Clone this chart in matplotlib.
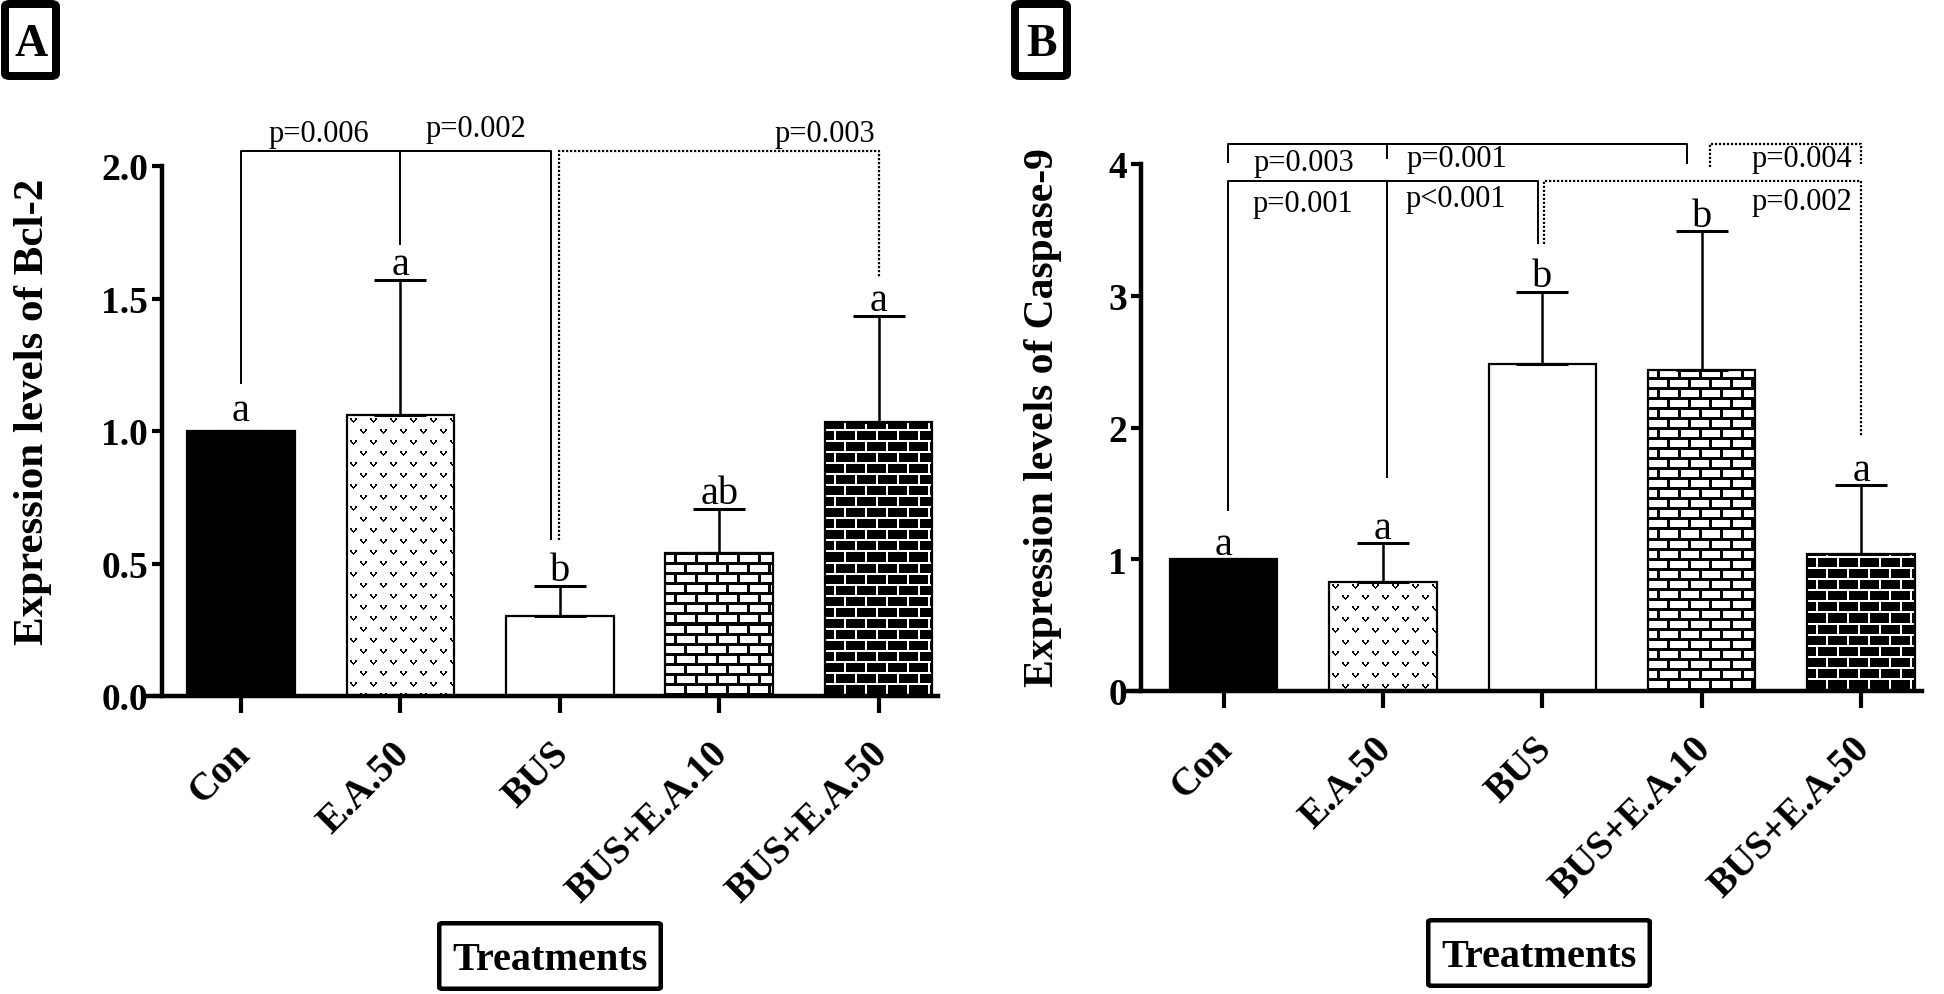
import numpy as np
import matplotlib
matplotlib.use("Agg")
import matplotlib.pyplot as plt
from matplotlib.patches import FancyBboxPatch

# ---------------- data ----------------
categories = ["Con", "E.A.50", "BUS", "BUS+E.A.10", "BUS+E.A.50"]

bcl2_mean = [1.00, 1.06, 0.303, 0.54, 1.035]
bcl2_sd = [0.00, 0.51, 0.113, 0.166, 0.40]
bcl2_letters = ["a", "a", "b", "ab", "a"]

casp9_mean = [1.00, 0.83, 2.48, 2.44, 1.04]
casp9_sd = [0.00, 0.29, 0.55, 1.05, 0.52]
casp9_letters = ["a", "a", "b", "b", "a"]

# brackets: (x_left, x_right, y_bar, y_left_end, y_right_end, mid_x, mid_y_end, style)
bcl2_brackets = [
    (0.0, 1.945, 2.058, 1.177, 0.59, 1.0, 1.703, "solid"),
    (1.995, 4.0, 2.058, 0.59, 1.58, None, None, "dotted"),
]
bcl2_ptexts = [("p=0.006", 0.49, 2.094), ("p=0.002", 1.475, 2.113), ("p=0.003", 3.66, 2.094)]

casp9_brackets = [
    (0.03, 2.91, 4.15, 4.01, 4.0, 1.026, 4.04, "solid"),
    (3.05, 4.0, 4.15, 3.98, 4.0, None, None, "dotted"),
    (0.03, 1.97, 3.87, 1.37, 3.39, 1.026, 1.62, "solid"),
    (2.01, 4.0, 3.87, 3.39, 1.93, None, None, "dotted"),
]
casp9_ptexts = [("p=0.003", 0.505, 3.955), ("p=0.001", 1.465, 3.985), ("p=0.004", 3.63, 3.985),
                ("p=0.001", 0.50, 3.64), ("p<0.001", 1.46, 3.68), ("p=0.002", 3.63, 3.66)]

patterns = ["solid", "vdots", "white", "brick_light", "brick_dark"]

# ---------------- style ----------------
plt.rcParams["font.family"] = ["Liberation Serif", "DejaVu Serif"]
W, H = 1944, 995
fig = plt.figure(figsize=(W / 100, H / 100), dpi=100)


def fx(x):
    return x / W


def fy(y):
    return 1 - y / H


def brick_tex(h, w, py, pxp, mortar, dark_bricks):
    yy, xx = np.mgrid[0:h, 0:w]
    yb = (h - 1 - yy)
    row = yb // py
    ymod = yb % py
    off = (row % 2) * (pxp / 2.0)
    xmod = (xx + 2 + off) % pxp
    mortar_mask = (ymod < mortar) | (xmod < mortar)
    if dark_bricks:
        return np.where(mortar_mask, 1.0, 0.0)
    return np.where(mortar_mask, 0.0, 1.0)


V_SHAPE = ["XX...XX",
           "XX...XX",
           ".XX.XX.",
           "..XXX..",
           "...X..."]


def v_tex(h, w, pxp=20.0, py=11.0):
    img = np.ones((h, w))
    pts = [(r, c - 3) for r, line in enumerate(V_SHAPE) for c, ch in enumerate(line) if ch == "X"]
    nrows = int(h / py) + 2
    ncols = int(w / pxp) + 2
    for r in range(nrows):
        yc = int(r * py) + 3
        off = (r % 2) * pxp / 2.0
        for c in range(-1, ncols):
            xc = int(c * pxp + off + 6)
            for dy, dx in pts:
                yy, xx = yc + dy, xc + dx
                if 0 <= yy < h and 0 <= xx < w:
                    img[yy, xx] = 0.0
    return img


def panel(c0_px, step_px, top_px, bottom_px, xlim, spine_x, ymax, yticks, yfmt, means, sds,
          letters, brackets, ptexts, ylabel, ylabel_px, ylabel_fs, bare_gap):
    left = c0_px + xlim[0] * step_px
    right = c0_px + xlim[1] * step_px
    ax = fig.add_axes([fx(left), fy(bottom_px), fx(right) - fx(left), fy(top_px) - fy(bottom_px)])
    ax.set_xlim(*xlim)
    ax.set_ylim(0, ymax)
    x = np.arange(len(categories))
    bw = 0.675
    bars = ax.bar(x, means, width=bw, color="white", edgecolor="none", zorder=1.5)
    for i, (b, pat) in enumerate(zip(bars, patterns)):
        if pat == "solid":
            b.set_facecolor("black")
        elif pat != "white":
            x0, x1 = x[i] - bw / 2, x[i] + bw / 2
            p0 = ax.transData.transform((x0, 0))
            p1 = ax.transData.transform((x1, means[i]))
            wpx = max(int(round(p1[0] - p0[0])), 1)
            hpx = max(int(round(p1[1] - p0[1])), 1)
            if pat == "vdots":
                img = v_tex(hpx, wpx)
            elif pat == "brick_light":
                img = brick_tex(hpx, wpx, 10, 21, 3, False)
            else:
                img = brick_tex(hpx, wpx, 11, 21, 2, True)
            im = ax.imshow(img, extent=(x0, x1, 0, means[i]), aspect="auto", cmap="gray",
                           vmin=0, vmax=1, interpolation="nearest", zorder=2, origin="upper")
            im.set_clip_path(b)
    ax.bar(x, means, width=bw, fill=False, edgecolor="black", linewidth=1.6, zorder=3)
    ax.errorbar(x, means, yerr=[np.zeros(len(sds)), sds], fmt="none", ecolor="black",
                elinewidth=1.8, capsize=19, capthick=2.2, zorder=2.5)
    for i, lt in enumerate(letters):
        gap = bare_gap if sds[i] == 0 else 4
        ax.annotate(lt, (x[i], means[i] + sds[i]), xytext=(0, gap), textcoords="offset points",
                    ha="center", va="baseline", fontsize=29, zorder=4)
    for (xl, xr, yb, yl, yr, mx, my, st) in brackets:
        if st == "solid":
            kw = dict(color="black", lw=1.4, ls="-", clip_on=False, zorder=4,
                      solid_capstyle="butt")
        else:
            kw = dict(color="black", lw=1.6, ls=(0, (1.0, 0.8)), clip_on=False, zorder=4,
                      dash_capstyle="butt")
        ax.plot([xl, xl, xr, xr], [yl, yb, yb, yr], **kw)
        if mx is not None:
            ax.plot([mx, mx], [yb, my], **kw)
    for (t, tx, ty) in ptexts:
        ax.text(tx, ty, t, ha="center", va="baseline", fontsize=22, clip_on=False)

    for s in ["top", "right"]:
        ax.spines[s].set_visible(False)
    ax.spines["left"].set_position(("data", spine_x))
    ax.spines["left"].set_linewidth(3.2)
    ax.spines["bottom"].set_linewidth(3.2)
    ax.set_yticks(yticks)
    ax.set_yticklabels([yfmt.format(v) for v in yticks], fontsize=27, fontweight="bold")
    ax.set_xticks(x)
    ax.set_xticklabels([])
    for i, c in enumerate(categories):
        ax.annotate(c, (x[i], 0), xytext=(-7, -28), textcoords="offset points",
                    ha="right", va="top", rotation=45, rotation_mode="anchor",
                    fontsize=28, fontweight="bold", annotation_clip=False)
    ax.tick_params(axis="y", direction="out", length=7, width=3, pad=3)
    ax.tick_params(axis="x", direction="out", length=12, width=3)
    fig.text(fx(ylabel_px[0]), fy(ylabel_px[1]), ylabel, rotation=90, ha="center", va="center",
             fontsize=ylabel_fs, fontweight="bold")
    ax.set_xlim(*xlim)
    ax.set_ylim(0, ymax)
    return ax


axA = panel(241, 159.4, 167, 697, (-0.5834, 4.37), -0.496, 2.0, [0.0, 0.5, 1.0, 1.5, 2.0], "{:.1f}",
            bcl2_mean, bcl2_sd, bcl2_letters, bcl2_brackets, bcl2_ptexts,
            "Expression levels of Bcl-2", (33, 412), 31, 8)
axB = panel(1223.5, 159.4, 165, 692, (-0.602, 4.38), -0.518, 4.0, [0, 1, 2, 3, 4], "{:d}",
            casp9_mean, casp9_sd, casp9_letters, casp9_brackets, casp9_ptexts,
            "Expression levels of Caspase-9", (1043, 418), 30, 4)


def boxed(x0, y0, x1, y1, lw_px, text, tx, ty, fs, rad):
    inset = lw_px / 2.0
    p = FancyBboxPatch((fx(x0 + inset), fy(y1 - inset)), fx(x1 - x0 - 2 * inset),
                       (y1 - y0 - 2 * inset) / H,
                       boxstyle="round,pad=0,rounding_size=%f" % (rad / W),
                       transform=fig.transFigure, facecolor="white", edgecolor="black",
                       linewidth=lw_px * 0.72, zorder=5)
    fig.patches.append(p)
    fig.text(fx(tx), fy(ty), text, ha="center", va="baseline", fontsize=fs, fontweight="bold",
             zorder=6)


boxed(1, 1, 60, 81, 8, "A", 31, 56, 33, 5)
boxed(1011, 1, 1071, 81, 8, "B", 1041, 56, 33, 5)
boxed(437, 922, 663, 992, 4.5, "Treatments", 550, 970, 29, 3)
boxed(1426, 919, 1652, 989, 4.5, "Treatments", 1539, 967, 29, 3)

fig.savefig("out.png", dpi=100)
